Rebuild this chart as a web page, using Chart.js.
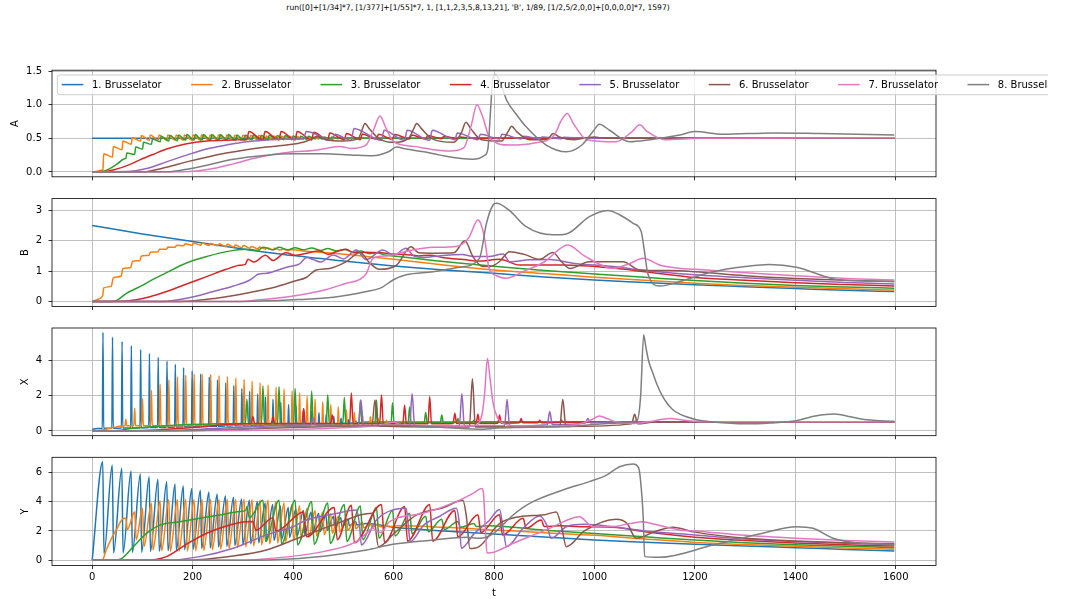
<!DOCTYPE html>
<html><head><meta charset="utf-8">
<script src="https://cdn.jsdelivr.net/npm/chart.js@4.4.1/dist/chart.umd.min.js"></script>
<style>
html,body{margin:0;padding:0;background:#fff;}
#fig{position:relative;width:1065px;height:599px;overflow:hidden;background:#fff;}
#fig canvas{position:absolute;left:0;}
#title{position:absolute;top:3px;left:0;width:956px;text-align:center;font-family:"DejaVu Sans";font-size:7.6px;line-height:10px;color:#000;white-space:nowrap;}
</style></head><body>
<div id="fig">
<div id="title"></div>
<canvas id="c0"></canvas><canvas id="c1"></canvas><canvas id="c2"></canvas><canvas id="c3"></canvas>
</div>
<script>
// ---------------- text ----------------
const titleText = "run([0]+[1/34]*7, [1/377]+[1/55]*7, 1, [1,1,2,3,5,8,13,21], 'B', 1/89, [1/2,5/2,0,0]+[0,0,0,0]*7, 1597)";
const seriesLabels = ['1. Brusselator','2. Brusselator','3. Brusselator','4. Brusselator','5. Brusselator','6. Brusselator','7. Brusselator','8. Brusselator'];
const panelLabels = ['A','B','X','Y'];
const xLabel = 't';
const xTicks = [0,200,400,600,800,1000,1200,1400,1600];
const aTicks = [0,0.5,1.0,1.5];
const bTicks = [0,1,2,3];
const xvTicks = [0,2,4];
const yvTicks = [0,2,4,6];

// ---------------- A ----------------
const A1 = [[0,0.5],[1597,0.5]];
const A2_head = [[0,0],[10,0.01],[20,0.03]];
const A2_jumps = [[21.5,0.04,0.27],[40.5,0.22,0.38],[59.5,0.33,0.46],[78,0.41,0.51],[96.5,0.46,0.54],[114,0.47,0.55],[131.5,0.47,0.55],[149,0.47,0.55],[165.5,0.47,0.55],[182,0.47,0.55],[199,0.47,0.55],[216,0.47,0.55],[233,0.47,0.55],[249.5,0.475,0.55],[266,0.475,0.55],[282,0.475,0.545],[298,0.475,0.545],[313.5,0.48,0.54],[329.5,0.48,0.54],[345,0.48,0.535],[360,0.48,0.535],[375.5,0.485,0.53],[391,0.485,0.53],[406,0.485,0.525],[421,0.49,0.52],[436.5,0.49,0.52],[451.5,0.49,0.515],[466,0.495,0.51],[481,0.495,0.51],[495.5,0.5,0.505]];
const A2_tail = [[520,0.5],[1597,0.5]];
const A3_head = [[0,0],[20,0.005],[35,0.05],[50,0.12],[66,0.2]];
const A3_jumps = [[67,0.2,0.28],[84.6,0.26,0.37],[100.2,0.34,0.44],[118,0.41,0.49],[135.3,0.45,0.53],[152.6,0.46,0.545],[169.8,0.465,0.55],[186.4,0.47,0.555],[203,0.47,0.555],[219,0.47,0.555],[236,0.47,0.555],[252.7,0.47,0.555],[269.3,0.47,0.555],[286,0.47,0.55],[302.5,0.47,0.55],[318.4,0.475,0.55],[334.3,0.475,0.545],[350.2,0.475,0.545],[366.2,0.48,0.54],[382,0.48,0.54],[398,0.48,0.535],[413,0.485,0.53],[428,0.485,0.53],[443.8,0.49,0.525],[459,0.49,0.52],[475,0.49,0.52],[490,0.495,0.515],[506,0.495,0.51],[522,0.495,0.51],[538,0.5,0.505]];
const A3_tail = [[560,0.5],[1597,0.5]];
const A4_head = [[0,0],[30,0.01],[42,0.03],[68,0.09],[95,0.18],[121,0.26],[148,0.34],[188,0.42],[228,0.46],[281,0.475],[305,0.48]];
const A4_jumps = [[308,0.48,0.6],[340,0.475,0.6],[372,0.475,0.6],[404,0.475,0.6],[437,0.475,0.59],[469,0.475,0.58],[502,0.48,0.57],[534,0.48,0.565],[566,0.485,0.56],[598,0.485,0.555],[632,0.49,0.55],[664,0.49,0.54],[696,0.495,0.53],[728,0.495,0.52]];
const A4_tail = [[760,0.5],[1597,0.5]];
const A5_head = [[0,0],[68,0.005],[108,0.05],[148,0.15],[188,0.25],[228,0.34],[267,0.4],[307,0.45],[347,0.475],[387,0.49],[418,0.49]];
const A5_jumps = [[421,0.49,0.6],[478,0.47,0.56],[516,0.47,0.645],[576,0.47,0.62],[622,0.47,0.62],[672,0.47,0.62],[722,0.48,0.58],[768,0.48,0.56],[811,0.49,0.56],[854,0.49,0.53],[891,0.495,0.52],[934,0.495,0.515]];
const A5_tail = [[980,0.5],[1597,0.5]];
const A6 = [[0,0],[100,0.002],[148,0.07],[188,0.15],[228,0.22],[267,0.28],[307,0.33],[347,0.37],[387,0.4],[420,0.44],[440,0.5],[448,0.53],[465,0.48],[500,0.46],[530,0.5],[537,0.62],[543,0.72],[552,0.64],[570,0.5],[600,0.44],[630,0.5],[640,0.64],[646,0.72],[656,0.64],[675,0.5],[720,0.44],[735,0.58],[744,0.74],[754,0.64],[775,0.48],[815,0.46],[828,0.6],[835,0.68],[845,0.6],[870,0.48],[905,0.48],[918,0.57],[930,0.52],[960,0.48],[985,0.51],[1000,0.52],[1020,0.5],[1597,0.5]];
const A7 = [[0,0],[180,0.002],[241,0.05],[281,0.12],[320,0.2],[360,0.26],[400,0.3],[440,0.32],[466,0.35],[493,0.38],[515,0.35],[545,0.4],[560,0.62],[573,0.83],[585,0.65],[600,0.45],[640,0.38],[680,0.33],[712,0.31],[740,0.36],[755,0.7],[766,1.0],[776,0.85],[792,0.5],[831,0.4],[880,0.43],[920,0.55],[935,0.78],[946,0.87],[958,0.72],[985,0.48],[1043,0.45],[1075,0.6],[1090,0.7],[1105,0.6],[1140,0.48],[1209,0.5],[1597,0.51]];
const A8 = [[0,0],[150,0.002],[188,0.04],[228,0.1],[281,0.19],[347,0.25],[400,0.27],[460,0.27],[519,0.25],[559,0.24],[590,0.3],[606,0.37],[625,0.34],[660,0.3],[692,0.25],[758,0.19],[782,0.25],[788,0.35],[793,0.9],[798,1.4],[804,1.44],[814,1.3],[825,1.07],[845,0.85],[864,0.67],[904,0.4],[944,0.3],[975,0.4],[997,0.6],[1010,0.71],[1030,0.62],[1070,0.45],[1110,0.48],[1170,0.55],[1200,0.6],[1256,0.56],[1355,0.58],[1450,0.57],[1597,0.55]];

// ---------------- B ----------------
const B1 = [[0,2.5],[100,2.22],[200,1.97],[300,1.73],[400,1.51],[500,1.33],[600,1.17],[700,1.04],[800,0.93],[900,0.81],[1000,0.71],[1100,0.63],[1200,0.55],[1300,0.49],[1400,0.43],[1500,0.37],[1597,0.33]];
const B2 = [[0,0],[12,0.08],[21,0.2],[23,0.45],[38,0.5],[42,0.78],[58,0.84],[61,1.08],[77,1.12],[80,1.32],[95,1.35],[98,1.5],[113,1.52],[116,1.62],[131,1.63],[134,1.72],[148,1.72],[151,1.79],[165,1.78],[168,1.85],[182,1.83],[185,1.9],[199,1.85],[202,1.92],[216,1.85],[219,1.92],[233,1.84],[236,1.91],[250,1.83],[253,1.9],[266,1.81],[269,1.88],[282,1.79],[285,1.86],[298,1.77],[301,1.84],[314,1.75],[317,1.81],[330,1.73],[333,1.79],[345,1.72],[348,1.77],[360,1.7],[363,1.75],[376,1.69],[379,1.73],[391,1.67],[394,1.71],[420,1.66],[480,1.59],[600,1.39],[700,1.2],[800,1.04],[900,0.92],[1000,0.8],[1100,0.7],[1200,0.6],[1300,0.53],[1400,0.47],[1500,0.42],[1597,0.38]];
const B3 = [[0,0],[35,0.0],[50,0.05],[68,0.27],[95,0.49],[121,0.73],[148,0.95],[174,1.17],[201,1.35],[228,1.48],[267,1.64],[307,1.72],[330,1.68],[340,1.78],[360,1.7],[372,1.78],[390,1.7],[404,1.77],[420,1.7],[437,1.76],[455,1.68],[469,1.74],[486,1.66],[502,1.71],[520,1.62],[534,1.66],[552,1.57],[566,1.6],[585,1.52],[600,1.5],[632,1.44],[679,1.35],[740,1.25],[800,1.16],[900,1.02],[1000,0.91],[1100,0.8],[1200,0.69],[1300,0.6],[1400,0.53],[1500,0.48],[1597,0.44]];
const B4 = [[0,0],[68,0.02],[115,0.16],[148,0.33],[188,0.58],[228,0.82],[267,1.06],[294,1.19],[305,1.22],[310,1.39],[322,1.3],[345,1.52],[360,1.35],[385,1.6],[405,1.52],[425,1.58],[453,1.66],[470,1.55],[490,1.66],[506,1.72],[520,1.6],[545,1.62],[576,1.6],[600,1.56],[622,1.55],[650,1.5],[672,1.52],[700,1.44],[740,1.38],[770,1.33],[811,1.39],[851,1.2],[937,1.2],[1037,1.1],[1100,0.98],[1200,0.79],[1300,0.7],[1400,0.62],[1500,0.56],[1597,0.51]];
const B5 = [[0,0],[135,0.0],[188,0.11],[241,0.33],[281,0.51],[314,0.71],[322,0.8],[330,0.9],[347,0.93],[387,1.13],[413,1.24],[427,1.45],[440,1.38],[455,1.3],[480,1.53],[500,1.4],[526,1.69],[545,1.38],[579,1.69],[600,1.52],[625,1.75],[640,1.5],[660,1.45],[690,1.5],[736,1.55],[760,1.48],[790,1.48],[818,1.56],[831,1.31],[871,1.37],[911,1.38],[957,1.26],[1037,1.15],[1100,1.02],[1200,0.88],[1300,0.78],[1400,0.7],[1500,0.63],[1597,0.58]];
const B6 = [[0,0],[174,0.0],[247,0.11],[314,0.3],[367,0.49],[400,0.66],[427,0.8],[446,1.04],[473,1.09],[506,1.31],[533,1.61],[553,1.26],[572,1.06],[606,1.2],[635,1.8],[650,1.6],[679,1.59],[720,1.6],[742,2.0],[758,1.48],[778,1.15],[791,1.15],[810,1.3],[831,1.64],[860,1.55],[891,1.39],[917,1.61],[935,1.3],[951,1.09],[990,1.31],[1057,1.31],[1090,1.04],[1150,1.02],[1200,0.98],[1300,0.85],[1400,0.76],[1500,0.7],[1597,0.66]];
const B7 = [[0,0],[281,0.0],[360,0.1],[413,0.22],[466,0.4],[506,0.6],[533,0.73],[546,0.93],[559,1.42],[586,1.5],[640,1.7],[679,1.78],[725,1.81],[750,2.1],[768,2.68],[775,2.5],[782,2.0],[790,1.1],[805,0.85],[824,0.77],[860,1.0],[900,1.3],[947,1.86],[980,1.5],[1037,1.09],[1070,1.25],[1097,1.42],[1130,1.2],[1169,1.09],[1200,1.06],[1300,0.95],[1400,0.85],[1500,0.76],[1597,0.71]];
const B8 = [[0,0],[281,0.0],[413,0.07],[480,0.14],[546,0.33],[575,0.45],[599,0.71],[625,0.88],[679,0.98],[732,1.13],[771,1.42],[785,2.57],[798,3.17],[805,3.23],[830,3.0],[864,2.46],[917,2.19],[944,2.22],[990,2.79],[1027,2.99],[1050,2.85],[1077,2.57],[1093,2.3],[1100,1.6],[1106,0.93],[1130,0.51],[1170,0.66],[1236,0.98],[1300,1.15],[1348,1.22],[1402,1.13],[1481,0.73],[1540,0.68],[1597,0.66]];

// ---------------- X ----------------
const X1_head = [[0,0.08],[10,0.14]];
const X1_spikes = [[21.5,5.58,0.15],[40.5,5.32,0.15],[59.5,5.07,0.16],[78,4.83,0.17],[96.5,4.6,0.18],[114,4.38,0.19],[131.5,4.17,0.2],[149,3.96,0.21],[165.5,3.77,0.22],[182,3.58,0.23],[199,3.4,0.24],[216,3.23,0.25],[233,3.06,0.26],[249.5,2.89,0.27],[266,2.72,0.28],[282,2.57,0.29],[298,2.4,0.3],[313.5,2.25,0.31],[329.5,2.09,0.32],[345,1.94,0.33],[360,1.79,0.34],[375.5,1.62,0.35],[391,1.5,0.36],[406,1.38,0.37],[421,1.27,0.38],[436.5,1.15,0.39],[451.5,1.03,0.4],[466,0.92,0.41],[481,0.82,0.42],[495.5,0.72,0.43],[510,0.64,0.44],[525,0.57,0.46]];
const X1_tail = [[545,0.5],[1597,0.5]];
const X2_head = [[0,0],[20,0.05],[40,0.18],[60,0.28]];
const X2_spikes = [[67,0.66,0.3],[84.6,1.28,0.3],[100.2,1.85,0.3],[118,2.3,0.3],[135.3,2.64,0.3],[152.6,2.9,0.3],[169.8,3.07,0.3],[186.4,3.16,0.3],[203,3.22,0.3],[219,3.22,0.32],[236,3.2,0.32],[252.7,3.14,0.33],[269.3,3.08,0.33],[286,3.0,0.34],[302.5,2.92,0.34],[318.4,2.81,0.35],[334.3,2.72,0.35],[350.2,2.6,0.36],[366.2,2.47,0.36],[382,2.37,0.37],[398,2.26,0.37],[413,2.15,0.38],[428,1.98,0.38],[443.8,1.8,0.39],[459,1.65,0.39],[475,1.5,0.4],[490,1.35,0.4],[506,1.2,0.41],[522,1.05,0.42],[538,0.9,0.43],[554,0.8,0.44],[570,0.7,0.45],[586,0.6,0.46]];
const X2_tail = [[610,0.5],[1597,0.5]];
const X3_head = [[0,0],[40,0.0],[80,0.15],[150,0.3],[250,0.4],[300,0.42]];
const X3_spikes = [[308,1.8,0.42],[340,2.55,0.4],[372,2.5,0.4],[404,2.4,0.4],[437,2.25,0.4],[469,2.05,0.4],[502,1.9,0.41],[534,1.75,0.42],[566,1.75,0.43],[598,1.6,0.44],[632,1.35,0.45],[664,1.05,0.46],[696,0.9,0.47],[728,0.7,0.48],[760,0.6,0.49]];
const X3_tail = [[790,0.5],[1597,0.5]];
const X4_head = [[0,0],[100,0.02],[200,0.2],[300,0.4]];
const X4_spikes = [[320,0.8,0.42],[360,0.8,0.42],[421,1.25,0.42],[478,0.9,0.42],[516,2.15,0.4],[576,2.05,0.4],[622,1.45,0.4],[672,1.95,0.4],[722,1.0,0.42],[768,0.95,0.42],[811,0.9,0.44],[854,0.7,0.46],[891,0.6,0.47],[934,0.6,0.48]];
const X4_tail = [[970,0.5],[1597,0.5]];
const X5_head = [[0,0],[150,0.02],[250,0.15],[350,0.28],[430,0.33]];
const X5_spikes = [[440,0.75,0.33],[535,1.75,0.3],[637,2.1,0.28],[736,2.1,0.28],[826,1.8,0.28],[911,1.1,0.35],[987,0.7,0.45]];
const X5_tail = [[1030,0.5],[1597,0.5]];
const X6_head = [[0,0],[200,0.02],[300,0.1],[400,0.2],[500,0.26],[550,0.28]];
const X6_spikes = [[563,1.75,0.28],[757,2.95,0.22],[937,1.8,0.25],[1080,0.95,0.4]];
const X6_tail = [[1120,0.5],[1597,0.5]];
const X7 = [[0,0],[300,0.02],[450,0.12],[550,0.25],[575,0.32],[590,0.45],[600,0.5],[612,0.38],[650,0.3],[700,0.28],[760,0.3],[775,0.8],[781,2.0],[787,4.1],[792,3.0],[798,1.6],[806,0.8],[820,0.4],[850,0.28],[920,0.28],[970,0.4],[995,0.65],[1010,0.85],[1025,0.7],[1045,0.5],[1080,0.42],[1115,0.55],[1150,0.7],[1180,0.6],[1220,0.52],[1597,0.52]];
const X8 = [[0,0],[200,0.02],[300,0.12],[400,0.25],[500,0.3],[600,0.32],[700,0.2],[780,0.1],[800,0.15],[850,0.2],[950,0.25],[1050,0.45],[1085,0.6],[1092,2.0],[1098,5.45],[1102,4.8],[1108,3.95],[1116,3.3],[1125,2.6],[1133,2.1],[1145,1.55],[1156,1.2],[1170,0.95],[1183,0.8],[1205,0.62],[1236,0.5],[1302,0.4],[1350,0.45],[1402,0.58],[1440,0.85],[1478,0.96],[1510,0.8],[1534,0.66],[1570,0.57],[1597,0.55]];

// ---------------- Y ----------------
const Y1_head = [[0,0]];
const Y1_saw = [[21,6.72,0.45],[40,6.5,0.5],[59,6.27,0.5],[77.5,6.08,0.55],[96,5.88,0.55],[113.5,5.7,0.6],[131,5.52,0.62],[148.5,5.36,0.65],[165,5.2,0.68],[181.5,5.06,0.72],[198.5,4.9,0.75],[215.5,4.77,0.8],[232.5,4.66,0.85],[249,4.52,0.9],[265.5,4.4,0.95],[281.5,4.29,1.0],[297.5,4.18,1.05],[313,4.09,1.12],[329,4.0,1.2],[344.5,3.9,1.28],[359.5,3.8,1.35],[375,3.7,1.45],[390.5,3.6,1.55],[405.5,3.5,1.65],[420.5,3.4,1.75],[436,3.3,1.85],[451,3.2,1.95],[465.5,3.1,2.05],[480.5,3.0,2.15],[495,2.9,2.25],[509.5,2.8,2.35],[524.5,2.65,2.4]];
const Y1_tail = [[545,2.5],[600,2.25],[700,2.0],[800,1.79],[900,1.58],[1000,1.38],[1100,1.23],[1200,1.09],[1300,0.97],[1400,0.86],[1500,0.74],[1597,0.63]];
const Y2_head = [[0,0],[20,0.02],[28,0.7],[40,1.6],[48,2.07],[63,2.86]];
const Y2_saw = [[67,2.86,2.1],[84.6,3.3,1.4],[100.2,3.55,0.95],[118,3.88,0.7],[135.3,4.05,0.65],[152.6,4.12,0.62],[169.8,4.15,0.62],[186.4,4.15,0.63],[203,4.15,0.65],[219,4.15,0.68],[236,4.15,0.72],[252.7,4.15,0.76],[269.3,4.15,0.8],[286,4.15,0.86],[302.5,4.15,0.92],[318.4,4.12,0.98],[334.3,4.1,1.05],[350.2,4.1,1.12],[366.2,4.0,1.2],[382,3.9,1.28],[398,3.8,1.36],[413,3.7,1.45],[428,3.55,1.55],[443.8,3.4,1.65],[459,3.3,1.75],[475,3.15,1.85],[490,3.0,1.95],[506,2.85,2.05],[522,2.7,2.15],[538,2.6,2.2],[554,2.5,2.25],[570,2.45,2.28],[586,2.4,2.3]];
const Y2_tail = [[610,2.35],[700,2.25],[800,2.07],[900,1.88],[1000,1.7],[1100,1.45],[1200,1.22],[1300,1.08],[1400,0.95],[1500,0.84],[1597,0.75]];
const Y3_head = [[0,0],[40,0.0],[60,0.15],[82,0.93],[108,1.84],[135,2.4],[174,2.63],[214,2.86],[254,3.09],[294,3.32],[306,3.4]];
const Y3_saw = [[308,3.66,2.9],[340,4.1,1.3],[372,4.1,1.1],[404,4.1,1.05],[437,4.0,1.1],[469,3.9,1.15],[502,3.8,1.3],[534,3.7,1.4],[566,3.6,1.5],[598,3.4,1.65],[632,3.2,1.8],[664,3.0,1.95],[696,2.8,2.1],[728,2.65,2.25],[760,2.5,2.3]];
const Y3_tail = [[790,2.35],[900,2.05],[1000,1.82],[1100,1.6],[1200,1.38],[1300,1.2],[1400,1.06],[1500,0.96],[1597,0.86]];
const Y4_head = [[0,0],[101,0.0],[148,0.25],[188,1.1],[228,1.84],[267,2.34],[305,2.63]];
const Y4_saw = [[320,2.65,2.05],[360,2.9,2.0],[421,3.3,1.6],[482,3.6,1.4],[516,3.75,1.2],[576,3.8,1.2],[622,3.66,1.3],[672,3.8,1.3],[722,3.4,1.6],[768,3.1,1.9],[811,3.1,1.72],[858,2.86,2.18],[894,2.75,2.3]];
const Y4_tail = [[930,2.35],[970,2.29],[1037,2.25],[1100,1.95],[1200,1.57],[1300,1.35],[1400,1.18],[1500,1.06],[1597,0.97]];
const Y5 = [[0,0],[148,0],[214,0.25],[281,0.82],[347,1.73],[400,2.29],[427,2.75],[453,2.98],[480,3.15],[526,3.43],[532,2.5],[536,1.04],[566,2.75],[625,3.54],[629,2.5],[633,1.27],[660,2.4],[692,3.0],[725,3.54],[731,2.5],[735,0.82],[760,1.8],[790,2.7],[811,3.47],[818,2.2],[825,0.93],[858,2.18],[891,3.02],[905,2.4],[914,1.5],[944,2.29],[980,2.45],[1037,2.29],[1100,2.0],[1200,1.72],[1300,1.45],[1400,1.28],[1500,1.16],[1597,1.07]];
const Y6 = [[0,0],[188,0],[281,0.29],[347,0.7],[400,1.38],[453,2.07],[506,2.75],[533,3.09],[559,3.2],[563,2.5],[570,0.93],[600,1.8],[646,3.09],[700,3.6],[738,4.1],[745,3.0],[752,0.8],[771,0.95],[811,2.5],[851,2.97],[900,3.1],[924,3.3],[935,2.2],[944,0.93],[980,2.0],[1043,2.79],[1065,2.5],[1083,1.5],[1120,1.95],[1156,2.25],[1200,1.92],[1300,1.5],[1400,1.32],[1500,1.2],[1597,1.13]];
const Y7 = [[0,0],[281,0],[393,0.25],[460,0.59],[526,1.27],[545,1.8],[559,2.18],[565,2.0],[575,1.9],[592,2.63],[659,3.2],[725,4.0],[760,4.6],[775,4.9],[779,4.6],[783,2.0],[786,0.5],[800,0.55],[838,1.16],[904,2.07],[950,2.8],[970,2.97],[997,2.29],[1037,2.3],[1070,2.5],[1097,2.63],[1120,2.45],[1169,2.07],[1200,2.0],[1300,1.7],[1400,1.5],[1500,1.35],[1597,1.25]];
const Y8 = [[0,0],[281,0],[413,0.13],[480,0.36],[546,0.7],[599,1.09],[679,1.38],[745,1.57],[771,1.5],[798,1.8],[838,3.09],[871,3.88],[937,4.79],[990,5.36],[1024,5.8],[1050,6.38],[1077,6.57],[1088,6.3],[1093,5.0],[1097,2.98],[1100,0.25],[1130,0.2],[1236,1.04],[1335,1.84],[1402,2.29],[1435,2.18],[1475,1.5],[1520,1.2],[1597,1.1]];

// ---------------- builders (shape of the marks only) ----------------
function jumps(head, list, tail, d){ const p=[...head]; for(const [t,lo,hi] of list){ p.push([t,lo],[t+d,hi]); } return p.concat(tail); }
function spikes(head, list, tail, w){ const p=[...head]; for(const [t,pk,b] of list){ p.push([t-w,b],[t,pk],[t+w,b]); } return p.concat(tail); }
function saw(head, list, tail, d){ const p=[...head]; for(const [t,pk,tr] of list){ p.push([t,pk],[t+d,tr]); } return p.concat(tail); }

const colors = ['#1f77b4','#ff7f0e','#2ca02c','#d62728','#9467bd','#8c564b','#e377c2','#7f7f7f'];

const panels = [
  {series:[A1, jumps(A2_head,A2_jumps,A2_tail,1.5), jumps(A3_head,A3_jumps,A3_tail,2), jumps(A4_head,A4_jumps,A4_tail,4), jumps(A5_head,A5_jumps,A5_tail,5), A6, A7, A8],
   ticks:aTicks, dec:1, min:-0.072, max:1.512, top:70.2, bottom:176.8, labelX:15},
  {series:[B1,B2,B3,B4,B5,B6,B7,B8], ticks:bTicks, dec:0, min:-0.16, max:3.38, top:198.6, bottom:306.5, labelX:25.5},
  {series:[spikes(X1_head,X1_spikes,X1_tail,1.3), spikes(X2_head,X2_spikes,X2_tail,1.6), spikes(X3_head,X3_spikes,X3_tail,3), spikes(X4_head,X4_spikes,X4_tail,3.5), spikes(X5_head,X5_spikes,X5_tail,5), spikes(X6_head,X6_spikes,X6_tail,6), X7, X8],
   ticks:xvTicks, dec:0, min:-0.27, max:5.83, top:328, bottom:435.7, labelX:25.5},
  {series:[saw(Y1_head,Y1_saw,Y1_tail,2.5), saw(Y2_head,Y2_saw,Y2_tail,3), saw(Y3_head,Y3_saw,Y3_tail,5), saw(Y4_head,Y4_saw,Y4_tail,6), Y5, Y6, Y7, Y8],
   ticks:yvTicks, dec:0, min:-0.355, max:7.02, top:457.3, bottom:565.5, labelX:25.5}
];

document.getElementById('title').textContent = titleText;
Chart.defaults.font.family = '"DejaVu Sans", sans-serif';
Chart.defaults.font.size = 10;
Chart.defaults.color = '#000';

panels.forEach((p, k) => {
  const cv = document.getElementById('c'+k);
  const last = k === 3;
  const H = last ? 599 - p.bottom : 6;
  const cTop = Math.floor(p.top) - 9;
  const cH = Math.ceil(p.bottom - cTop + H);
  const padBottom = cH - (p.bottom - cTop) - H;
  cv.width = 1065; cv.height = cH;
  cv.style.top = cTop + 'px'; cv.style.width = '1065px'; cv.style.height = cH + 'px';

  const decor = {
    id: 'decor'+k,
    afterDatasetsDraw(chart){
      const a = chart.chartArea, ctx = chart.ctx;
      ctx.save();
      ctx.strokeStyle = '#000'; ctx.lineWidth = 0.8;
      ctx.strokeRect(a.left, a.top, a.right - a.left, a.bottom - a.top);
      ctx.restore();
    },
    afterDraw(chart){
      const a = chart.chartArea, ctx = chart.ctx;
      ctx.save();
      ctx.fillStyle = '#000';
      ctx.font = '10px "DejaVu Sans"';
      ctx.textAlign = 'center'; ctx.textBaseline = 'middle';
      ctx.translate(p.labelX, (a.top + a.bottom)/2);
      ctx.rotate(-Math.PI/2);
      ctx.fillText(panelLabels[k], 0, 0);
      ctx.restore();
      if (last) {
        ctx.save(); ctx.fillStyle = '#000'; ctx.font = '10px "DejaVu Sans"';
        ctx.textAlign = 'center'; ctx.textBaseline = 'middle';
        ctx.fillText(xLabel, (a.left + a.right)/2, 593 - cTop);
        ctx.restore();
      }
      if (k === 0) {
        const lx = 57.3, ly = 75 - cTop, lw = 1100, lh = 19.7, r = 2.5;
        ctx.save();
        ctx.beginPath(); ctx.rect(0, 0, 1048, chart.height); ctx.clip();
        ctx.beginPath();
        ctx.moveTo(lx + r, ly); ctx.lineTo(lx + lw - r, ly); ctx.arcTo(lx + lw, ly, lx + lw, ly + r, r);
        ctx.lineTo(lx + lw, ly + lh - r); ctx.arcTo(lx + lw, ly + lh, lx + lw - r, ly + lh, r);
        ctx.lineTo(lx + r, ly + lh); ctx.arcTo(lx, ly + lh, lx, ly + lh - r, r);
        ctx.lineTo(lx, ly + r); ctx.arcTo(lx, ly, lx + r, ly, r); ctx.closePath();
        ctx.fillStyle = 'rgba(255,255,255,0.8)'; ctx.fill();
        ctx.strokeStyle = '#cccccc'; ctx.lineWidth = 1; ctx.stroke();
        ctx.font = '10px "DejaVu Sans"'; ctx.textAlign = 'left'; ctx.textBaseline = 'middle';
        const cy = 84.6 - cTop;
        seriesLabels.forEach((lab, i) => {
          const x0 = 61.7 + i * 129.4;
          ctx.strokeStyle = colors[i]; ctx.lineWidth = 1.5;
          ctx.beginPath(); ctx.moveTo(x0, cy); ctx.lineTo(x0 + 21.6, cy); ctx.stroke();
          ctx.fillStyle = '#000'; ctx.fillText(lab, x0 + 30.3, cy + 0.5);
        });
        ctx.restore();
      }
    }
  };

  new Chart(cv, {
    type: 'line',
    data: {datasets: p.series.map((d, i) => ({
      label: seriesLabels[i],
      data: d.map(([x, y]) => ({x, y})),
      borderColor: colors[i], backgroundColor: colors[i],
      borderWidth: 1.5, pointRadius: 0, pointHoverRadius: 0, fill: false,
      cubicInterpolationMode: 'monotone',
      borderJoinStyle: 'round', borderCapStyle: 'butt', order: 8 - i
    }))},
    options: {
      responsive: false, animation: false, devicePixelRatio: 1, events: [],
      layout: {autoPadding: false, padding: {left: 12, right: 129, top: p.top - cTop, bottom: padBottom}},
      plugins: {legend: {display: false}, tooltip: {enabled: false}},
      scales: {
        x: {
          type: 'linear', min: -80, max: 1680,
          afterBuildTicks: s => { s.ticks = xTicks.map(v => ({value: v})); },
          afterFit: s => { s.height = H; s.paddingLeft = 0; s.paddingRight = 0; },
          grid: {color: '#b0b0b0', lineWidth: 0.8, tickColor: '#000', tickLength: 3.5, tickWidth: 0.8, drawTicks: true},
          border: {display: false},
          ticks: {display: last, color: '#000', font: {size: 10}, padding: 2.5, maxRotation: 0, autoSkip: false, callback: v => String(v)}
        },
        y: {
          type: 'linear', min: p.min, max: p.max,
          afterBuildTicks: s => { s.ticks = p.ticks.map(v => ({value: v})); },
          afterFit: s => { s.width = 40; s.paddingTop = 0; s.paddingBottom = 0; },
          grid: {color: '#b0b0b0', lineWidth: 0.8, tickColor: '#000', tickLength: 3.5, tickWidth: 0.8, drawTicks: true},
          border: {display: false},
          ticks: {color: '#000', font: {size: 10}, padding: 6.5, autoSkip: false, callback: v => Number(v).toFixed(p.dec)}
        }
      }
    },
    plugins: [decor]
  });
});
</script>
</body></html>
